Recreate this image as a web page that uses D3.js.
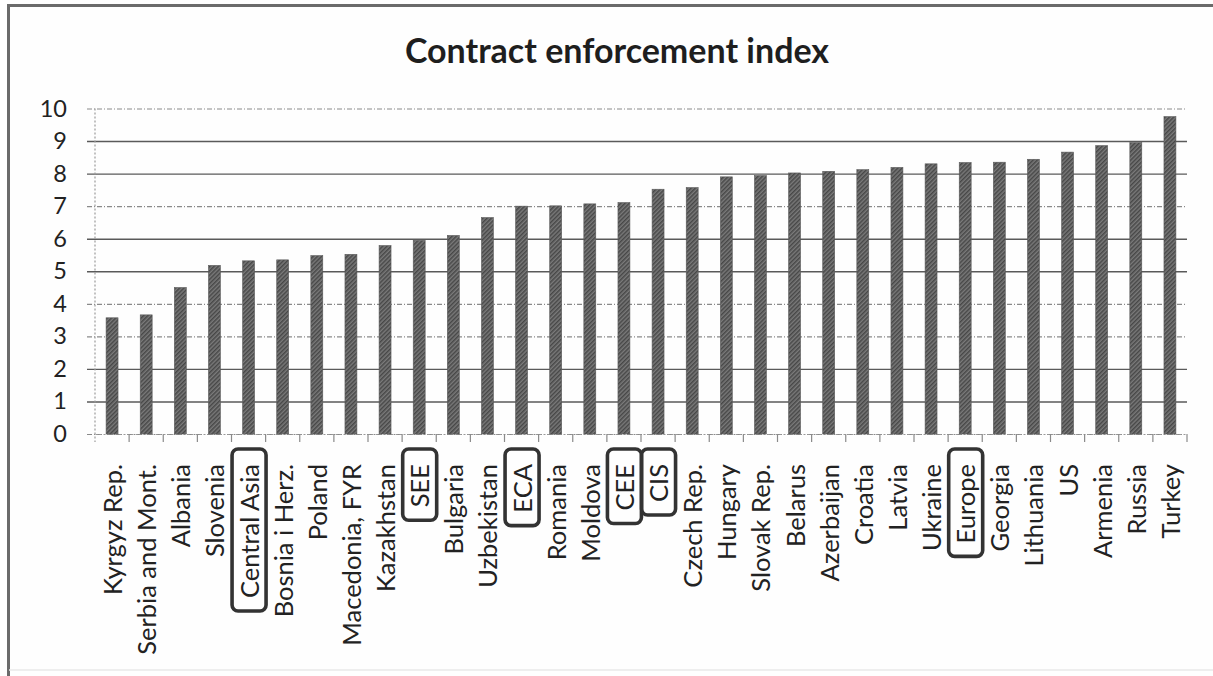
<!DOCTYPE html>
<html>
<head>
<meta charset="utf-8">
<script src="https://cdn.jsdelivr.net/npm/d3@7"></script>
<style>
  html, body { margin: 0; padding: 0; background: #ffffff; }
  svg { display: block; }
</style>
</head>
<body>
<svg id="chart" width="1213" height="676"></svg>
<script>
const categories = ["Kyrgyz Rep.", "Serbia and Mont.", "Albania", "Slovenia", "Central Asia", "Bosnia i Herz.", "Poland", "Macedonia, FYR", "Kazakhstan", "SEE", "Bulgaria", "Uzbekistan", "ECA", "Romania", "Moldova", "CEE", "CIS", "Czech Rep.", "Hungary", "Slovak Rep.", "Belarus", "Azerbaijan", "Croatia", "Latvia", "Ukraine", "Europe", "Georgia", "Lithuania", "US", "Armenia", "Russia", "Turkey"];
const values = [3.57, 3.66, 4.5, 5.18, 5.32, 5.35, 5.48, 5.52, 5.79, 5.95, 6.1, 6.65, 7.0, 7.01, 7.07, 7.11, 7.52, 7.57, 7.9, 7.94, 8.02, 8.07, 8.12, 8.19, 8.3, 8.34, 8.35, 8.44, 8.66, 8.86, 8.95, 9.75];
const highlighted = ["Central Asia", "SEE", "ECA", "CEE", "CIS", "Europe"];
const yTicks = [0, 1, 2, 3, 4, 5, 6, 7, 8, 9, 10];
const faintTicks = [0, 3, 4, 7, 10];
const title = "Contract enforcement index";

const svg = d3.select("#chart");
const W = 1213, H = 676;
const plot = { left: 95, right: 1187, top: 108.5, bottom: 434 };
const FONT = "Lato, 'Open Sans', sans-serif";

// frame
svg.append("rect").attr("x", 0).attr("y", 0).attr("width", W).attr("height", H).attr("fill", "#fefefe");
svg.append("path").attr("d", `M8.5,676 L8.5,5.5 L1213,5.5`).attr("fill", "none").attr("stroke", "#6a6a6a").attr("stroke-width", 3);
svg.append("line").attr("x1", 9).attr("x2", 1213).attr("y1", 670).attr("y2", 670).attr("stroke", "#e8e8e8").attr("stroke-width", 1.5);

// hatch pattern
const defs = svg.append("defs");
const pat = defs.append("pattern").attr("id", "hatch").attr("width", 3).attr("height", 3)
  .attr("patternUnits", "userSpaceOnUse").attr("patternTransform", "rotate(45)");
pat.append("rect").attr("width", 3).attr("height", 3).attr("fill", "#7a7a7a");
pat.append("line").attr("x1", 0.75).attr("x2", 0.75).attr("y1", 0).attr("y2", 3).attr("stroke", "#474747").attr("stroke-width", 1.5);

const x = d3.scaleBand().domain(categories).range([plot.left, plot.right]).paddingInner(0.65).paddingOuter(0.325);
const y = d3.scaleLinear().domain([0, 10]).range([plot.bottom, plot.top]);

// title
svg.append("text").attr("x", 617).attr("y", 63).attr("text-anchor", "middle")
  .attr("font-family", FONT).attr("font-weight", "bold").attr("font-size", 34)
  .attr("fill", "#1e1e1e").text(title);

// gridlines
const yAxis = d3.axisLeft(y).tickValues(yTicks).tickSize(0).tickFormat("");
const gGrid = svg.append("g").attr("transform", `translate(${plot.left - 8},0)`).call(yAxis);
gGrid.select(".domain").remove();
gGrid.selectAll(".tick line")
  .attr("stroke", d => faintTicks.includes(d) ? "#8a8a8a" : "#5a5a5a")
  .attr("stroke-width", d => faintTicks.includes(d) ? 1.2 : 1.4)
  .attr("stroke-dasharray", d => faintTicks.includes(d) ? "5,2,1,2" : null)
  .attr("x1", 0).attr("x2", plot.right - plot.left + 8);

// y labels
const yLab = d3.axisLeft(y).tickValues(yTicks).tickSize(0).tickPadding(0).tickFormat(d3.format("d"));
const gY = svg.append("g").attr("transform", `translate(67,0)`).call(yLab);
gY.select(".domain").remove();
gY.selectAll("text").attr("font-family", FONT).attr("font-size", 23.5).attr("fill", "#222");

// left axis (dotted)
svg.append("line").attr("x1", plot.left).attr("x2", plot.left).attr("y1", plot.top).attr("y2", plot.bottom + 8)
  .attr("stroke", "#9a9a9a").attr("stroke-width", 1.2).attr("stroke-dasharray", "2,2");

// bottom axis with ticks at band boundaries
const xAxis = d3.axisBottom(x).tickSize(0).tickFormat("");
const gX = svg.append("g").attr("transform", `translate(0,${plot.bottom})`).call(xAxis);
gX.select(".domain").attr("stroke", "#9a9a9a").attr("stroke-dasharray", "2,2").attr("stroke-width", 1.2);
gX.selectAll(".tick").remove();
gX.selectAll(".bound").data(categories).enter().append("line")
  .attr("class", "bound")
  .attr("x1", d => x(d) + x.bandwidth() / 2 + x.step() / 2)
  .attr("x2", d => x(d) + x.bandwidth() / 2 + x.step() / 2)
  .attr("y1", 0).attr("y2", 8).attr("stroke", "#8a8a8a").attr("stroke-width", 1.2);

// bars
svg.append("g").selectAll("rect").data(categories).enter().append("rect")
  .attr("x", d => x(d))
  .attr("width", x.bandwidth())
  .attr("y", (d, i) => y(values[i]))
  .attr("height", (d, i) => y(0) - y(values[i]))
  .attr("fill", "url(#hatch)")
  .attr("stroke", "#5a5a5a").attr("stroke-width", 0.6);

// x labels
const labelTop = plot.bottom + 30;
const gL = svg.append("g");
categories.forEach(c => {
  const cx = x(c) + x.bandwidth() / 2;
  const t = gL.append("text")
    .attr("transform", `translate(${cx + 10},${labelTop}) rotate(-90)`)
    .attr("text-anchor", "end")
    .attr("font-family", FONT).attr("font-size", 25.5).attr("fill", "#222")
    .text(c);
  if (highlighted.includes(c)) {
    const len = t.node().getComputedTextLength();
    gL.append("rect")
      .attr("x", cx - 16.5).attr("width", 34)
      .attr("y", labelTop - 15).attr("height", len + 28)
      .attr("rx", 6).attr("ry", 6)
      .attr("fill", "none").attr("stroke", "#333").attr("stroke-width", 3.6);
  }
});
</script>
</body>
</html>
